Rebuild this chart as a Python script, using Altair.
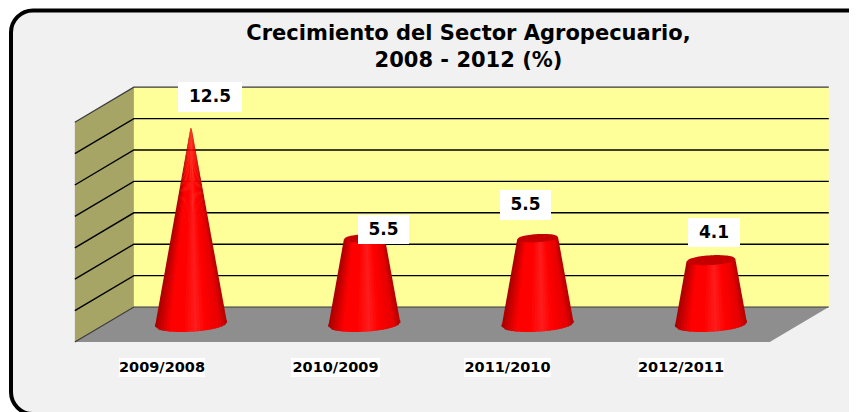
import math
import altair as alt
import pandas as pd

# ---- chart values ----
TITLE_LINES = ["Crecimiento del Sector Agropecuario,", "2008 - 2012 (%)"]
CATEGORIES = ["2009/2008", "2010/2009", "2011/2010", "2012/2011"]
VALUES = [12.5, 5.5, 5.5, 4.1]
GRID_LEVELS = [2, 4, 6, 8, 10, 12]
AXIS_MIN = 0
AXIS_MAX = 14

# ---- scene geometry (reference pixels -> scale units) ----
PX_X0, PX_STEP = 191.0, 173.3      # centre of first category, px per category
PX_Y0, PX_UNIT = 324.5, 15.7       # floor mid-depth, px per value unit
def xs(px): return (px - PX_X0) / PX_STEP
def ys(py): return (PX_Y0 - py) / PX_UNIT

X_SCALE = alt.Scale(domain=[xs(8), xs(849)], range=[0, 841], nice=False, zero=False)
Y_SCALE = alt.Scale(domain=[ys(412), ys(8)], range=[404, 0], nice=False, zero=False)
def X(f): return alt.X(f, type="quantitative", scale=X_SCALE, axis=None)
def Y(f): return alt.Y(f, type="quantitative", scale=Y_SCALE, axis=None)
X2 = lambda f: alt.X2(f)
Y2 = lambda f: alt.Y2(f)

DX = 29.5 / PX_STEP   # half depth in x
DY = 17.5 / PX_UNIT   # half depth in y
CAT_L, CAT_R = -0.5, 3.51
BASE_A = 36 / PX_STEP             # cone base half width
TAPER = 12.7                      # value at which the cone closes
N = 24
LAP = 0.04                        # overlap between shading strips, in u

def shade(t):
    stops = [(0, (165, 0, 0)), (0.10, (205, 0, 0)), (0.22, (255, 0, 0)), (0.40, (255, 0, 0)),
             (0.56, (255, 28, 28)), (0.70, (255, 0, 0)), (0.90, (230, 0, 0)), (1, (175, 0, 0))]
    for (a, ca), (b, cb) in zip(stops, stops[1:]):
        if t <= b:
            f = (t - a) / (b - a)
            c = [round(p + (q - p) * f) for p, q in zip(ca, cb)]
            return "#%02x%02x%02x" % tuple(c)
    return "#af0000"

def low_edge(u, a, minor=0.2):
    w = a * PX_STEP
    return -(minor * w * math.sqrt(max(0, 1 - u * u))) / PX_UNIT + (w / 18) * u / PX_UNIT

def tilt(u, a):
    return (a * PX_STEP / 18) * u / PX_UNIT

body, base, caps = [], [], []
for i, v in enumerate(VALUES):
    a_top = BASE_A * max(0, 1 - v / TAPER)
    for s in range(N):
        t0, t1 = s / N, (s + 1) / N
        m = (t0 + t1) / 2
        col = shade(m)
        key = f"{i}-{s:03d}"
        u0, u1 = 2 * t0 - 1, min(1, 2 * t1 - 1 + LAP)
        body.append(dict(k=key, c=col, y=tilt(2 * m - 1, BASE_A),
                         x=i + u0 * BASE_A, x2=i + u1 * BASE_A))
        body.append(dict(k=key, c=col, y=v + tilt(2 * m - 1, a_top),
                         x=i + u0 * a_top, x2=i + u1 * a_top))
        for u in (u0, u1):
            base.append(dict(k=key, c=col, x=i + u * BASE_A,
                             y=tilt(u, BASE_A) + 0.15, y2=low_edge(u, BASE_A)))
    for s in range(N + 1):
        u = 2 * s / N - 1
        r = math.sqrt(max(0, 1 - u * u))
        w = a_top * PX_STEP * 0.2 / PX_UNIT
        caps.append(dict(k=i, x=i + u * a_top, y=v + tilt(u, a_top) + w * r,
                         y2=v + tilt(u, a_top) - w * r))

body = pd.DataFrame(body)
base = pd.DataFrame(base)
caps = pd.DataFrame(caps)

# ---- frame ----
frame = alt.Chart(pd.DataFrame([dict(x=xs(11), x2=xs(872), y=ys(10.5), y2=ys(414))])).mark_rect(
    fill="#f1f1f1", stroke="#000000", strokeWidth=4, cornerRadius=22
).encode(x=X("x"), x2=X2("x2"), y=Y("y"), y2=Y2("y2"))

# ---- walls and floor ----
back_l, back_r = CAT_L + DX, CAT_R + DX
front_l, front_r = CAT_L - DX, CAT_R - DX
wall = alt.Chart(pd.DataFrame([
    dict(x=back_l, y=AXIS_MAX + DY, y2=AXIS_MIN + DY),
    dict(x=back_r, y=AXIS_MAX + DY, y2=AXIS_MIN + DY),
])).mark_area(fill="#ffff99").encode(x=X("x"), y=Y("y"), y2=Y2("y2"))

side = alt.Chart(pd.DataFrame([
    dict(x=front_l, y=AXIS_MAX - DY, y2=AXIS_MIN - DY),
    dict(x=back_l, y=AXIS_MAX + DY, y2=AXIS_MIN + DY),
])).mark_area(fill="#a6a566").encode(x=X("x"), y=Y("y"), y2=Y2("y2"))

floor = alt.Chart(pd.DataFrame([
    dict(y=AXIS_MIN + DY, x=back_l, x2=back_r),
    dict(y=AXIS_MIN - DY, x=front_l, x2=front_r),
])).mark_area(fill="#8e8e8e", orient="horizontal").encode(y=Y("y"), x=X("x"), x2=X2("x2"))

grid_rows = []
for lv in [AXIS_MIN] + GRID_LEVELS + [AXIS_MAX]:
    grid_rows += [dict(k=lv, o=0, x=front_l, y=lv - DY),
                  dict(k=lv, o=1, x=back_l, y=lv + DY),
                  dict(k=lv, o=2, x=back_r, y=lv + DY)]
grid = pd.DataFrame(grid_rows)
lines = alt.Chart(grid[grid.k.isin(GRID_LEVELS)]).mark_line(stroke="#000000", strokeWidth=1.4).encode(
    x=X("x"), y=Y("y"), detail="k:N", order="o:Q")
edges = alt.Chart(grid[~grid.k.isin(GRID_LEVELS)]).mark_line(stroke="#3a3a3a", strokeWidth=1.2).encode(
    x=X("x"), y=Y("y"), detail="k:N", order="o:Q")

# ---- cones ----
cone_body = alt.Chart(body).mark_area(orient="horizontal").encode(
    y=Y("y"), x=X("x"), x2=X2("x2"), detail="k:N",
    fill=alt.Fill("c:N", scale=None))
cone_base = alt.Chart(base).mark_area().encode(
    x=X("x"), y=Y("y"), y2=Y2("y2"), detail="k:N",
    fill=alt.Fill("c:N", scale=None))
cone_cap = alt.Chart(caps).mark_area(fill="#c40000").encode(
    x=X("x"), y=Y("y"), y2=Y2("y2"), detail="k:N")

# ---- value labels (white boxes and text) ----
LABEL_BOX_PX = [(178, 242, 82, 112), (358, 409, 215, 244), (500, 551, 190, 220), (688, 740, 218, 247)]
val_rows = [dict(t=f"{v:.1f}", x=xs((b[0] + b[1]) / 2), y=ys((b[2] + b[3]) / 2),
                 x1=xs(b[0]), x2=xs(b[1]), y1=ys(b[2]), y2=ys(b[3]))
            for v, b in zip(VALUES, LABEL_BOX_PX)]
val_df = pd.DataFrame(val_rows)
val_box = alt.Chart(val_df).mark_rect(fill="#ffffff").encode(
    x=X("x1"), x2=X2("x2"), y=Y("y1"), y2=Y2("y2"))
val_txt = alt.Chart(val_df).mark_text(font="DejaVu Sans", fontWeight="bold", fontSize=17, color="#000000").encode(
    x=X("x"), y=Y("y"), text="t:N")

# ---- category labels ----
CAT_BOX_PX = [(119, 205), (291, 380), (464, 551), (638, 724)]
cat_rows = [dict(t=c, x=xs((b[0] + b[1]) / 2), x1=xs(b[0]), x2=xs(b[1]), y=ys(367.5), y1=ys(358), y2=ys(377))
            for c, b in zip(CATEGORIES, CAT_BOX_PX)]
cat_df = pd.DataFrame(cat_rows)
cat_box = alt.Chart(cat_df).mark_rect(fill="#ffffff").encode(
    x=X("x1"), x2=X2("x2"), y=Y("y1"), y2=Y2("y2"))
cat_txt = alt.Chart(cat_df).mark_text(font="DejaVu Sans", fontWeight="bold", fontSize=14.5, color="#000000").encode(
    x=X("x"), y=Y("y"), text="t:N")

# ---- title ----
title_df = pd.DataFrame([dict(t=l, x=xs(468.5), y=ys(py)) for l, py in zip(TITLE_LINES, [34, 61])])
title_txt = alt.Chart(title_df).mark_text(font="DejaVu Sans", fontWeight="bold", fontSize=21, color="#000000").encode(
    x=X("x"), y=Y("y"), text="t:N")

chart = alt.layer(
    frame, wall, side, floor, lines, edges,
    cone_body, cone_base, cone_cap,
    val_box, val_txt, cat_box, cat_txt, title_txt,
).properties(
    width=841, height=404, background="#ffffff", padding=0,
    autosize=alt.AutoSizeParams(type="none"),
).configure_view(stroke=None)

chart.save("out.html", embed_options={"renderer": "svg", "actions": False})
